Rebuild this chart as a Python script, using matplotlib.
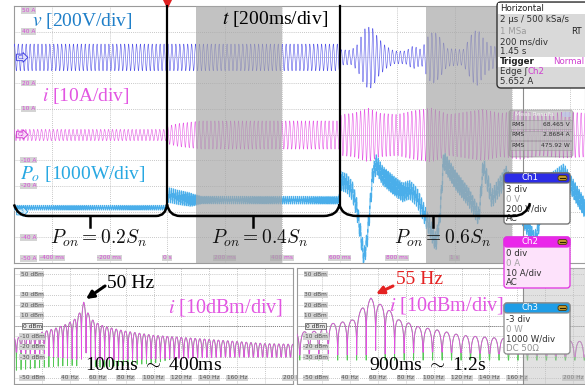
import numpy as np
import matplotlib.pyplot as plt
from matplotlib.patches import FancyBboxPatch, Rectangle, PathPatch
from matplotlib.path import Path
import matplotlib.transforms as mtransforms

plt.rcParams['font.family'] = 'DejaVu Sans'
plt.rcParams['mathtext.fontset'] = 'cm'

# ---------------- time-domain traces (t in ms, levels in div) ----------------
trace_freq = 73.0         # Hz, as the screen renders the line-frequency traces
ripple_freq = 146.0       # Hz, power ripple
switch_freq = 1130.0      # Hz, fuzz on the power trace

v_offset = 3.0
v_env_t = [-540, 598, 605, 640, 662, 690, 712, 735, 760, 790, 830, 856, 885,
           912, 930, 948, 975, 1030, 1062, 1080, 1100, 1125, 1160, 1200, 1260,
           1320, 1380, 1460]
v_env_a = [0.52, 0.52, 0.3, 0.28, 0.5, 1.15, 1.2, 0.75, 0.45, 0.25, 0.25, 0.45,
           0.3, 0.9, 1.0, 0.8, 0.35, 0.3, 0.95, 1.1, 0.75, 0.45, 0.4, 0.9, 0.35,
           1.0, 0.4, 0.8]

i_offset = -0.02
i_env_t = [-540, -2, 3, 40, 120, 598, 606, 650, 700, 740, 800, 860, 920, 980,
           1040, 1100, 1160, 1230, 1300, 1380, 1460]
i_env_a = [0.22, 0.22, 0.35, 0.45, 0.55, 0.55, 0.8, 0.85, 1.05, 0.85, 0.8,
           0.95, 1.05, 0.8, 0.9, 1.0, 0.85, 0.95, 0.8, 0.9, 0.85]

po_t = [-540, -2, 4, 40, 90, 598, 604, 625, 645, 660, 675, 685, 695, 705, 715,
        728, 750, 785, 820, 845, 870, 890, 910, 935, 948, 962, 1005, 1050,
        1085, 1100, 1130, 1180, 1230, 1280, 1320, 1380, 1460]
po_lvl = [-2.85, -2.85, -2.35, -2.45, -2.55, -2.56, -1.8, -1.9, -2.2, -2.85,
          -4.0, -4.8, -4.2, -3.0, -1.6, -1.15, -1.6, -1.95, -2.25, -2.15, -2.45,
          -2.95, -3.5, -4.2, -3.4, -1.0, -1.8, -2.45, -3.2, -1.2, -2.5, -1.6,
          -3.0, -4.2, -2.0, -1.5, -3.0]
po_rip_t = [-540, -2, 2, 80, 120, 598, 604, 1460]
po_rip_a = [0.06, 0.06, 0.2, 0.18, 0.1, 0.1, 0.25, 0.25]

# ---------------- spectra (f in Hz, level in dBm) ----------------
fft1_peak = 50.0
fft1_lobe = 3.33
fft1_env_f = [0, 10, 20, 30, 38, 43, 46, 48, 50, 52, 54, 57, 62, 70, 80, 100,
              120, 140, 160, 180, 210]
fft1_env_db = [-12, -9, -6, -2, 2, 6, 10, 16, 23, 16, 10, 5, 1, -2, -5, -9,
               -11, -13, -15, -17, -18]
fft1_floor_f = [0, 30, 50, 100, 150, 210]
fft1_floor_db = [-25, -30, -33, -32, -30, -30]
fft1_green_f = [0, 20, 40, 60, 80, 100, 120, 210]
fft1_green_db = [-43, -40, -38, -40, -38, -36, -30, -30]

fft2_peak = 55.0
fft2_lobe = 6.8
fft2_env_f = [0, 15, 25, 35, 42, 46, 50, 55, 60, 65, 70, 75, 82, 90, 100, 110,
              120, 140, 160, 210]
fft2_env_db = [-6, -5, 2, 4, 6, 12, 20, 27, 22, 19, 13, 6, 3, -1, -3, -6, -9,
               -11, -13, -15]
fft2_floor_f = [0, 50, 100, 150, 210]
fft2_floor_db = [-28, -28, -25, -27, -30]
fft2_green_f = [0, 210]
fft2_green_db = [-33, -33]

time_ticks = [-400, -200, 0, 200, 400, 600, 800, 1000]
time_tick_labels = ['-400 ms', '-200 ms', '0 s', '200 ms', '400 ms', '600 ms',
                    '800 ms', '1 s']
amp_ticks = [4.82, 4, 2, 1, -1, -2, -4, -4.82]
amp_tick_labels = ['50 A', '40 A', '20 A', '10 A', '-10 A', '-20 A', '-40 A', '-50 A']
freq_ticks = [40, 60, 80, 100, 120, 140, 160, 200]
db_ticks = [50, 30, 20, 10, -10, -20, -30, -50]

fft_windows = [(100, 400), (900, 1200)]
step_times = [0, 600]

W, H = 585, 385
fig = plt.figure(figsize=(W / 100, H / 100), dpi=100)


def px_axes(x0, y0, x1, y1):
    return fig.add_axes([x0 / W, 1 - y1 / H, (x1 - x0) / W, (y1 - y0) / H])


PX_PER_MS = 0.2875
T0_PX = 167


def t_at(x):
    return (x - T0_PX) / PX_PER_MS


tag = dict(boxstyle='square,pad=0.12', fc='#d4d4d4', ec='none')
grid_kw = dict(color='#b5b5b5', lw=0.6, ls=(0, (1, 1.5)), zorder=1)

# ---------------- scope screen ----------------
ax = px_axes(14, 6, 585, 263)
ax.set_xlim(t_at(14), t_at(585))
ax.set_ylim(-5, 5)
ax.set_xticks([])
ax.set_yticks([])
for s in ax.spines.values():
    s.set_color('#9a9a9a')
    s.set_linewidth(0.8)
for tt in range(-400, 1500, 200):
    ax.axvline(tt, **grid_kw)
for yy in range(-4, 5):
    ax.axhline(yy, **grid_kw)

t = np.linspace(t_at(14), t_at(585), 30000)
ts = t / 1000.0
v = v_offset + np.interp(t, v_env_t, v_env_a) * np.sin(2 * np.pi * trace_freq * ts)
cur = i_offset + np.interp(t, i_env_t, i_env_a) * np.sin(2 * np.pi * trace_freq * ts + 0.6)
rip = np.interp(t, po_rip_t, po_rip_a)
po = (np.interp(t, po_t, po_lvl) + rip * np.sin(2 * np.pi * ripple_freq * ts)
      + 0.5 * rip * np.sin(2 * np.pi * switch_freq * ts))

ax.plot(t, v, color='#5656e8', lw=0.4, zorder=3)
ax.plot(t, cur, color='#e65ae6', lw=0.4, zorder=3)
ax.plot(t, po, color='#c2e5f8', lw=1.1, zorder=3)
ax.plot(t, po, color='#4aaeea', lw=0.4, zorder=3)

for t1, t2 in fft_windows:
    ax.axvspan(t1, t2, color='#a6a6a6', alpha=0.68, lw=0, zorder=5)

for tt, lab in zip(time_ticks, time_tick_labels):
    ax.text(tt, -4.8, lab, fontsize=4.2, color='#d946d9', ha='center',
            va='center', bbox=tag, zorder=4)
ylab = mtransforms.blended_transform_factory(ax.transAxes, ax.transData)
for yy, lab in zip(amp_ticks, amp_tick_labels):
    ax.text(0.025, yy, lab, transform=ylab, fontsize=4.2, color='#d946d9',
            ha='center', va='center', bbox=tag, zorder=4)
for yy, lab, col, fc in [(v_offset, 'C1', '#3030e0', '#dedef8'),
                         (0, 'C2', '#d030d0', '#f8d8f8'),
                         (-3, 'C3', '#2ea3e6', '#d8eef8')]:
    ax.text(0.012, yy, lab, transform=ylab, fontsize=3.8, color=col,
            ha='center', va='center', zorder=6,
            bbox=dict(boxstyle='rarrow,pad=0.15', fc=fc, ec=col, lw=0.6))


# ---------------- spectra ----------------
def spectrum(ax_f, fmax, peak, lobe, ef, edb, ff, fdb, gf, gdb):
    f = np.linspace(0, fmax, 9000)
    shape = 20 * np.log10(np.abs(np.cos(np.pi * (f - peak) / lobe)) + 1e-6)
    env = np.interp(f, ef, edb)
    green = np.maximum(env + shape, np.interp(f, gf, gdb))
    mag = np.maximum(env + shape, np.interp(f, ff, fdb))
    ax_f.plot(f, green, color='#55c855', lw=0.6, zorder=3)
    ax_f.plot(f, mag, color='#e64ce6', lw=0.6, zorder=3)


def fft_axes(x0, x1, flo, fhi):
    a = px_axes(x0, 268, x1, 384)
    a.set_xlim(flo, fhi)
    a.set_ylim(-56, 56)
    a.set_xticks([])
    a.set_yticks([])
    for s in a.spines.values():
        s.set_color('#9a9a9a')
        s.set_linewidth(0.8)
    for ff in range(20, 201, 20):
        a.axvline(ff, **grid_kw)
    for dd in range(-50, 51, 10):
        a.axhline(dd, **grid_kw)
    a.axhline(0, color='#808080', lw=0.7, ls=(0, (1, 1)), zorder=1)
    for ff in freq_ticks:
        a.text(ff, -50, f'{ff} Hz', fontsize=4.2, color='#505050', ha='center',
               va='center', bbox=tag, zorder=4)
    yl = mtransforms.blended_transform_factory(a.transAxes, a.transData)
    for dd in db_ticks:
        a.text(0.065, dd, f'{dd} dBm', transform=yl, fontsize=4.2,
               color='#505050', ha='center', va='center', bbox=tag, zorder=4)
    a.text(0.065, 0, '0 dBm', transform=yl, fontsize=4.2, color='#303030',
           ha='center', va='center', zorder=4,
           bbox=dict(boxstyle='square,pad=0.12', fc='#e8e8e8', ec='#505050', lw=0.5))
    return a


ax1 = fft_axes(14, 293, 0, 200)
spectrum(ax1, 200, fft1_peak, fft1_lobe, fft1_env_f, fft1_env_db,
         fft1_floor_f, fft1_floor_db, fft1_green_f, fft1_green_db)

ax2 = fft_axes(297, 585, 2, 208.5)
spectrum(ax2, 208.5, fft2_peak, fft2_lobe, fft2_env_f, fft2_env_db,
         fft2_floor_f, fft2_floor_db, fft2_green_f, fft2_green_db)
ax2.axvspan(164, 208.5, color='#bdbdbd', alpha=0.45, lw=0, zorder=5)

# ---------------- annotation layer ----------------
ov = fig.add_axes([0, 0, 1, 1])
ov.set_xlim(0, W)
ov.set_ylim(H, 0)
ov.axis('off')
ov.patch.set_alpha(0)
ov.set_zorder(10)

ov.plot([523, 523], [88, 385], color='#8c8c8c', lw=0.8, zorder=1)

serif = 'Liberation Serif'
ov.text(32, 21, '$v$ [200V/div]', fontsize=14, color='#1f7fc8', family=serif,
        math_fontfamily='stix', va='center')
ov.text(42, 96, '$i$ [10A/div]', fontsize=14, color='#e256e2', family=serif,
        math_fontfamily='stix', va='center')
ov.text(20, 174, '$P_o$ [1000W/div]', fontsize=14, color='#28a8e2',
        family=serif, math_fontfamily='stix', va='center')
ov.text(222, 19, '$t$ [200ms/div]', fontsize=14, color='black', family=serif,
        math_fontfamily='stix', va='center')
for cx, frac in [(98, '0.2'), (259, '0.4'), (442, '0.6')]:
    ov.text(cx, 238, r'$P_{on} = ' + frac + r'S_n$', fontsize=14, ha='center',
            va='center', color='#111111')

ov.text(131, 284, '50 Hz', fontsize=14, family=serif, ha='center', va='center')
ov.annotate('', xy=(86, 299), xytext=(105, 286),
            arrowprops=dict(arrowstyle='-|>', color='black', lw=2.2,
                            mutation_scale=11, shrinkA=0, shrinkB=0))
ov.text(226, 308, '$i$ [10dBm/div]', fontsize=14.5, color='#e256e2',
        family=serif, math_fontfamily='stix', ha='center', va='center')
ov.text(154, 366, r'100ms $\sim$ 400ms', fontsize=14, family=serif,
        ha='center', va='center')
ov.text(420, 279, '55 Hz', fontsize=14, color='#e42222', family=serif,
        ha='center', va='center')
ov.annotate('', xy=(376, 294), xytext=(393, 286),
            arrowprops=dict(arrowstyle='-|>', color='#e42222', lw=2.2,
                            mutation_scale=11, shrinkA=0, shrinkB=0))
ov.text(447, 305, '$i$ [10dBm/div]', fontsize=14.5, color='#e256e2',
        family=serif, math_fontfamily='stix', ha='center', va='center')
ov.text(428, 365, r'900ms $\sim$ 1.2s', fontsize=14, family=serif,
        ha='center', va='center')

# trigger mark
ov.plot([T0_PX], [2], marker='v', color='#e02020', ms=7, zorder=6, clip_on=False)

# ---------------- info panels ----------------
hb = FancyBboxPatch((497, 2), 92, 86, boxstyle='round,pad=0,rounding_size=4',
                    fc='#d9d9d9', ec='#333333', lw=1.0, zorder=2)
ov.add_patch(hb)
ov.add_patch(Rectangle((498, 3), 90, 11, fc='white', ec='none', zorder=2))
ov.add_patch(Rectangle((498, 57), 90, 10, fc='white', ec='none', zorder=2))
small = dict(fontsize=6.2, va='center', zorder=3)
ov.text(500, 8.5, 'Horizontal', color='#202020', **small)
ov.text(500, 20, '2 µs / 500 kSa/s', color='#303030', **small)
ov.text(500, 31, '1 MSa', color='#9a9a9a', **small)
ov.text(582, 31, 'RT', color='#202020', ha='right', fontsize=6.2, va='center', zorder=3)
ov.text(500, 42, '200 ms/div', color='#303030', **small)
ov.text(500, 52, '1.45 s', color='#303030', **small)
ov.text(500, 62, 'Trigger', color='#202020', fontweight='bold', **small)
ov.text(584, 62, 'Normal', color='#d040d0', ha='right', fontsize=6.2, va='center', zorder=3)
ov.text(500, 72, 'Edge ʃ', color='#303030', **small)
ov.text(528, 72, 'Ch2', color='#d040d0', **small)
ov.text(500, 82, '5.652 A', color='#303030', **small)

mb = FancyBboxPatch((509, 110), 64, 47, boxstyle='round,pad=0,rounding_size=3',
                    fc='#9c9c9c', ec='#8a8a8a', alpha=0.5, lw=0.8, zorder=2)
ov.add_patch(mb)
ov.text(535, 115, 'Meas Results', fontsize=4.3, color='#f4f4f4', ha='center',
        va='center', zorder=3)
ov.add_patch(FancyBboxPatch((562, 112), 9, 5, boxstyle='round,pad=0,rounding_size=2',
                            fc='#c0c8e8', ec='none', alpha=0.8, zorder=3))
for yy, val in [(124, '68.465 V'), (135, '2.8684 A'), (145.5, '475.92 W')]:
    ov.add_patch(Rectangle((510, yy - 4.5), 62, 9, fc='#bdbdbd', ec='#8a8a8a',
                           lw=0.4, alpha=0.7, zorder=3))
    ov.text(511, yy, 'RMS', fontsize=4.3, color='#303030', va='center', zorder=4)
    ov.text(570, yy, val, fontsize=4.3, color='#303030', va='center',
            ha='right', zorder=4)


def channel_box(y0, head, body, edge, title, rows, row_cols):
    x0, w, h = 504, 66, 51
    ov.add_patch(FancyBboxPatch((x0, y0), w, h, boxstyle='round,pad=0,rounding_size=3',
                                fc=body, ec=edge, lw=0.9, zorder=4))
    ov.add_patch(FancyBboxPatch((x0, y0), w, 10, boxstyle='round,pad=0,rounding_size=3',
                                fc=head, ec=edge, lw=0.9, zorder=4))
    ov.text(x0 + 26, y0 + 5, title, fontsize=6.2, color='white', ha='center',
            va='center', zorder=5)
    ov.add_patch(FancyBboxPatch((x0 + w - 12, y0 + 2.5), 9, 5,
                                boxstyle='round,pad=0,rounding_size=2',
                                fc='#c49a30', ec='#4a3a10', lw=0.6, zorder=5))
    ov.plot([x0 + w - 10, x0 + w - 5], [y0 + 5, y0 + 5], color='#2a2000',
            lw=0.8, zorder=6)
    for k, (txt, col) in enumerate(zip(rows, row_cols)):
        ov.text(x0 + 2, y0 + 17 + 9.5 * k, txt, fontsize=6.2, color=col,
                va='center', zorder=5)


channel_box(173, '#2c2ce6', 'white', '#6a6a6a', 'Ch1',
            ['3 div', '0 V', '200 V/div', 'AC'],
            ['#303030', '#a0a0a0', '#303030', '#303030'])
channel_box(237, '#ea26ea', '#fde2fb', '#e030e0', 'Ch2',
            ['0 div', '0 A', '10 A/div', 'AC'],
            ['#303030', '#a0a0a0', '#303030', '#303030'])
channel_box(303, '#1f9de6', 'white', '#8a8a8a', 'Ch3',
            ['-3 div', '0 W', '1000 W/div', 'DC 50Ω'],
            ['#303030', '#a0a0a0', '#303030', '#909090'])

# ---------------- step brackets ----------------
y_top, y_bot, y_tick = -2.72, -3.17, -3.6
t_left, t_end = t_at(14), t_at(530)
M, Q, L = Path.MOVETO, Path.CURVE3, Path.LINETO
verts = [(t_left, y_top), (t_left + 12, y_bot), (t_left + 50, y_bot),
         (-38, y_bot), (-4, y_bot), (0, y_top),
         (8, y_bot), (45, y_bot),
         (545, y_bot), (592, y_bot), (600, y_top),
         (608, y_bot), (660, y_bot),
         (1205, y_bot), (1250, y_bot), (t_end, -2.67)]
codes = [M, Q, Q, L, Q, Q, Q, Q, L, Q, Q, Q, Q, L, Q, Q]
ov.add_patch(PathPatch(Path(verts, codes), transform=ax.transData, fill=False,
                       ec='black', lw=1.8, zorder=8, clip_on=False))
for ts_ in step_times:
    ov.plot([ts_, ts_], [y_top, 5], color='black', lw=1.6,
            transform=ax.transData, zorder=8, clip_on=False)
for tm in [-268, 299, 925]:
    ov.plot([tm, tm], [y_bot, y_tick], color='black', lw=1.8,
            transform=ax.transData, zorder=8, clip_on=False)

fig.savefig('out.png', dpi=100)
